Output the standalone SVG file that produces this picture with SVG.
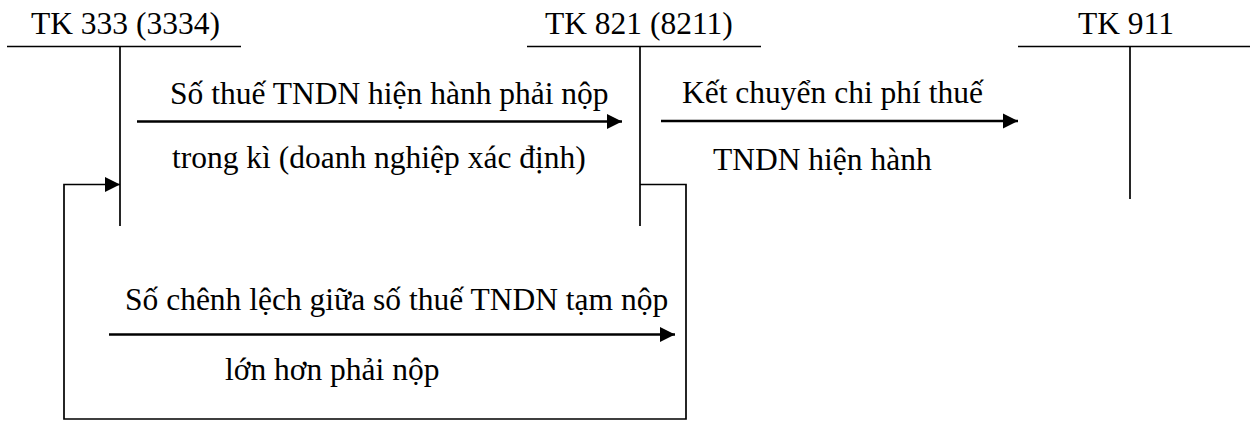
<svg xmlns="http://www.w3.org/2000/svg" width="1252" height="421" viewBox="0 0 1252 421">
<style>
text{font-family:'Liberation Serif','Times New Roman','DejaVu Serif',serif;font-size:31.5px;fill:#000}
.t{stroke:#000;stroke-width:1.7;fill:none}
.a{stroke:#000;stroke-width:2.6;fill:none}
.l{stroke:#000;stroke-width:1.7;fill:none}
</style>
<defs>
<marker id="ah" markerUnits="userSpaceOnUse" markerWidth="16" markerHeight="16" viewBox="0 0 16 16" refX="15" refY="8" orient="auto">
<path d="M0,0.5 L15,8 L0,15.5 Z" fill="#000"/>
</marker>
</defs>
<rect width="1252" height="421" fill="#fff"/>
<g id="tk333" font-family="Liberation Serif, serif">
<text x="31" y="34">TK 333 (3334)</text>
<line class="t" x1="7" y1="46.5" x2="241" y2="46.5"/>
<line class="t" x1="120" y1="46.5" x2="120" y2="226"/>
</g>
<g id="tk821" font-family="Liberation Serif, serif">
<text x="545" y="34">TK 821 (8211)</text>
<line class="t" x1="527" y1="46.5" x2="761" y2="46.5"/>
<line class="t" x1="640" y1="46.5" x2="640" y2="226"/>
</g>
<g id="tk911" font-family="Liberation Serif, serif">
<text x="1078" y="34">TK 911</text>
<line class="t" x1="1018" y1="46.5" x2="1250" y2="46.5"/>
<line class="t" x1="1130" y1="46.5" x2="1130" y2="199"/>
</g>
<g id="connectors">
<path class="a" d="M137,121.5 H622" marker-end="url(#ah)"/>
<path class="a" d="M661,121 H1018" marker-end="url(#ah)"/>
<path class="l" d="M640,184.5 H686 V419 H64 V184.5 H120" marker-end="url(#ah)"/>
<path class="a" d="M109,334.5 H675" marker-end="url(#ah)"/>
</g>
<g id="labels" font-family="Liberation Serif, serif">
<text x="170" y="104">Số thuế TNDN hiện hành phải nộp</text>
<text x="172" y="168">trong kì (doanh nghiệp xác định)</text>
<text x="682" y="103">Kết chuyển chi phí thuế</text>
<text x="713" y="170">TNDN hiện hành</text>
<text x="125" y="310">Số chênh lệch giữa số thuế TNDN tạm nộp</text>
<text x="225" y="380">lớn hơn phải nộp</text>
</g>
</svg>
